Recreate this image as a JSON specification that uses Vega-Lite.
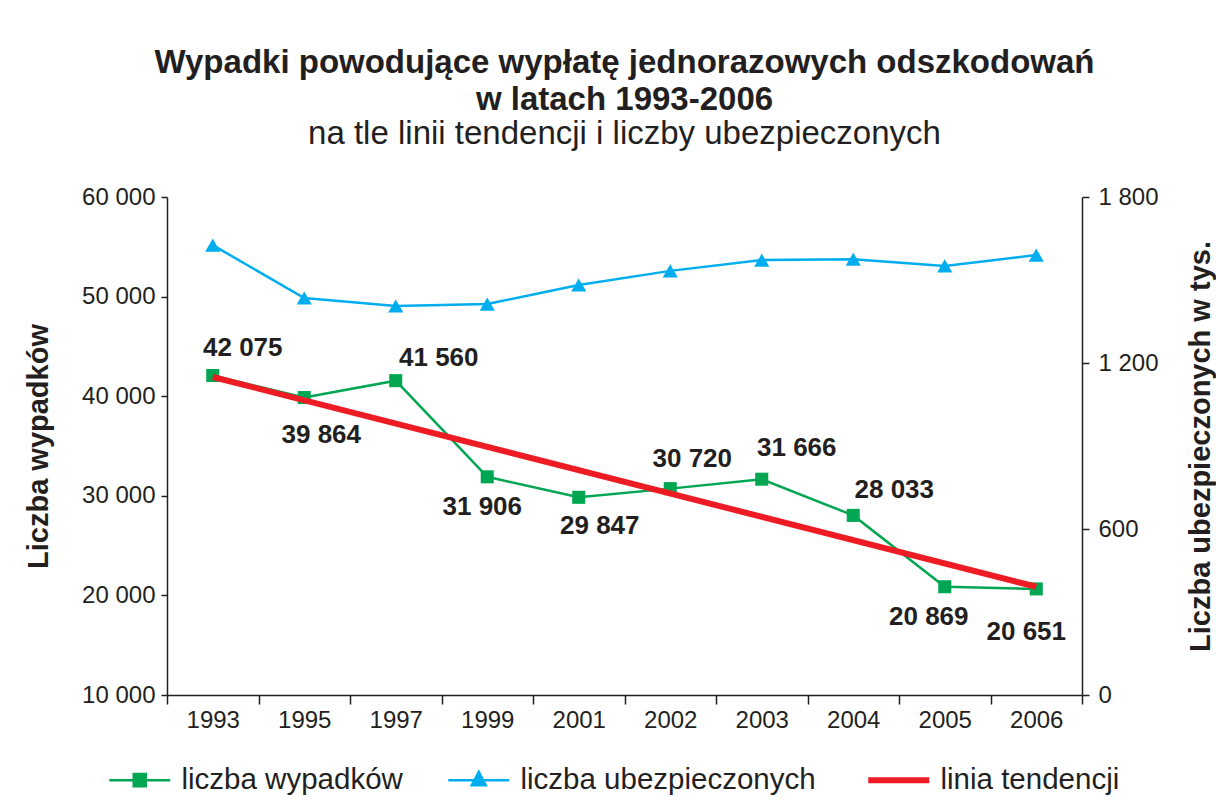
{
  "$schema": "https://vega.github.io/schema/vega-lite/v6.json",
  "width": 915,
  "height": 498,
  "autosize": {"type": "none"},
  "padding": {"left": 167, "top": 197, "right": 134, "bottom": 112},
  "background": "white",
  "config": {
    "locale": {"number": {"decimal": ",", "thousands": " ", "grouping": [3], "currency": ["", " zł"]}},
    "view": {"stroke": null},
    "font": "Liberation Sans",
    "axis": {
      "labelFont": "Liberation Sans", "labelFontSize": 24, "labelColor": "#231F20",
      "titleFont": "Liberation Sans", "titleFontSize": 29, "titleFontWeight": "bold", "titleColor": "#231F20",
      "domainColor": "#231F20", "tickColor": "#231F20", "domainWidth": 1.5, "tickWidth": 1.5, "grid": false
    }
  },
  "title": {
    "text": ["Wypadki powodujące wypłatę jednorazowych odszkodowań", "w latach 1993-2006"],
    "subtitle": "na tle linii tendencji i liczby ubezpieczonych",
    "font": "Liberation Sans", "fontSize": 33, "fontWeight": "bold", "color": "#231F20", "lineHeight": 37,
    "subtitleFont": "Liberation Sans", "subtitleFontSize": 33, "subtitleFontWeight": "normal", "subtitleColor": "#231F20",
    "subtitleLineHeight": 37, "subtitlePadding": 1, "anchor": "middle", "offset": 34
  },
  "datasets": {
    "d": [
      {"year": "1993", "wypadki": 42075, "ubezp": 1626},
      {"year": "1995", "wypadki": 39864, "ubezp": 1435},
      {"year": "1997", "wypadki": 41560, "ubezp": 1406},
      {"year": "1999", "wypadki": 31906, "ubezp": 1413},
      {"year": "2001", "wypadki": 29847, "ubezp": 1482},
      {"year": "2002", "wypadki": 30720, "ubezp": 1533},
      {"year": "2003", "wypadki": 31666, "ubezp": 1572},
      {"year": "2004", "wypadki": 28033, "ubezp": 1575},
      {"year": "2005", "wypadki": 20869, "ubezp": 1551},
      {"year": "2006", "wypadki": 20651, "ubezp": 1590}
    ],
    "t": [
      {"year": "1993", "trend": 41930},
      {"year": "2006", "trend": 20870}
    ],
    "leg": [
      {"series": "liczba wypadków"},
      {"series": "liczba ubezpieczonych"},
      {"series": "linia tendencji"}
    ]
  },
  "encoding": {
    "x": {
      "field": "year", "type": "ordinal", "bandPosition": 0.5,
      "scale": {"type": "band", "paddingInner": 0, "paddingOuter": 0,
        "domain": ["1993", "1995", "1997", "1999", "2001", "2002", "2003", "2004", "2005", "2006"]},
      "axis": {"title": null, "labelAngle": 0, "tickBand": "extent", "tickSize": 9, "labelPadding": 4}
    }
  },
  "layer": [
    {
      "layer": [
        {
          "data": {"name": "d"},
          "mark": {"type": "line", "color": "#00A651", "strokeWidth": 2.5},
          "encoding": {
            "y": {"field": "wypadki", "type": "quantitative",
              "scale": {"domain": [10000, 60000], "nice": false, "zero": false},
              "axis": {"title": "Liczba wypadków", "values": [10000, 20000, 30000, 40000, 50000, 60000], "format": ",d",
                "tickSize": 6, "labelPadding": 6, "titlePadding": 28}}
          }
        },
        {
          "data": {"name": "d"},
          "mark": {"type": "point", "shape": "square", "filled": true, "opacity": 1, "size": 170, "color": "#00A651"},
          "encoding": {
            "y": {"field": "wypadki", "type": "quantitative", "scale": {"domain": [10000, 60000], "nice": false, "zero": false}}
          }
        },
        {
          "data": {"name": "t"},
          "mark": {"type": "line", "color": "#ED1C24", "strokeWidth": 6},
          "encoding": {
            "y": {"field": "trend", "type": "quantitative", "scale": {"domain": [10000, 60000], "nice": false, "zero": false}}
          }
        },
        {"data": {"name": "d"}, "transform": [{"filter": "datum.year == '1993'"}],
          "mark": {"type": "text", "font": "Liberation Sans", "fontSize": 26, "fontWeight": "bold", "color": "#231F20", "dx": 30, "dy": -28},
          "encoding": {"y": {"field": "wypadki", "type": "quantitative"}, "text": {"field": "wypadki", "type": "quantitative", "format": ",d"}}},
        {"data": {"name": "d"}, "transform": [{"filter": "datum.year == '1995'"}],
          "mark": {"type": "text", "font": "Liberation Sans", "fontSize": 26, "fontWeight": "bold", "color": "#231F20", "dx": 17, "dy": 37},
          "encoding": {"y": {"field": "wypadki", "type": "quantitative"}, "text": {"field": "wypadki", "type": "quantitative", "format": ",d"}}},
        {"data": {"name": "d"}, "transform": [{"filter": "datum.year == '1997'"}],
          "mark": {"type": "text", "font": "Liberation Sans", "fontSize": 26, "fontWeight": "bold", "color": "#231F20", "dx": 43, "dy": -23},
          "encoding": {"y": {"field": "wypadki", "type": "quantitative"}, "text": {"field": "wypadki", "type": "quantitative", "format": ",d"}}},
        {"data": {"name": "d"}, "transform": [{"filter": "datum.year == '1999'"}],
          "mark": {"type": "text", "font": "Liberation Sans", "fontSize": 26, "fontWeight": "bold", "color": "#231F20", "dx": -5, "dy": 30},
          "encoding": {"y": {"field": "wypadki", "type": "quantitative"}, "text": {"field": "wypadki", "type": "quantitative", "format": ",d"}}},
        {"data": {"name": "d"}, "transform": [{"filter": "datum.year == '2001'"}],
          "mark": {"type": "text", "font": "Liberation Sans", "fontSize": 26, "fontWeight": "bold", "color": "#231F20", "dx": 21, "dy": 29},
          "encoding": {"y": {"field": "wypadki", "type": "quantitative"}, "text": {"field": "wypadki", "type": "quantitative", "format": ",d"}}},
        {"data": {"name": "d"}, "transform": [{"filter": "datum.year == '2002'"}],
          "mark": {"type": "text", "font": "Liberation Sans", "fontSize": 26, "fontWeight": "bold", "color": "#231F20", "dx": 22, "dy": -30},
          "encoding": {"y": {"field": "wypadki", "type": "quantitative"}, "text": {"field": "wypadki", "type": "quantitative", "format": ",d"}}},
        {"data": {"name": "d"}, "transform": [{"filter": "datum.year == '2003'"}],
          "mark": {"type": "text", "font": "Liberation Sans", "fontSize": 26, "fontWeight": "bold", "color": "#231F20", "dx": 35, "dy": -31},
          "encoding": {"y": {"field": "wypadki", "type": "quantitative"}, "text": {"field": "wypadki", "type": "quantitative", "format": ",d"}}},
        {"data": {"name": "d"}, "transform": [{"filter": "datum.year == '2004'"}],
          "mark": {"type": "text", "font": "Liberation Sans", "fontSize": 26, "fontWeight": "bold", "color": "#231F20", "dx": 41, "dy": -25},
          "encoding": {"y": {"field": "wypadki", "type": "quantitative"}, "text": {"field": "wypadki", "type": "quantitative", "format": ",d"}}},
        {"data": {"name": "d"}, "transform": [{"filter": "datum.year == '2005'"}],
          "mark": {"type": "text", "font": "Liberation Sans", "fontSize": 26, "fontWeight": "bold", "color": "#231F20", "dx": -16, "dy": 30},
          "encoding": {"y": {"field": "wypadki", "type": "quantitative"}, "text": {"field": "wypadki", "type": "quantitative", "format": ",d"}}},
        {"data": {"name": "d"}, "transform": [{"filter": "datum.year == '2006'"}],
          "mark": {"type": "text", "font": "Liberation Sans", "fontSize": 26, "fontWeight": "bold", "color": "#231F20", "dx": -10, "dy": 43},
          "encoding": {"y": {"field": "wypadki", "type": "quantitative"}, "text": {"field": "wypadki", "type": "quantitative", "format": ",d"}}},
        {
          "data": {"name": "leg"},
          "transform": [{"filter": "false"}],
          "mark": {"type": "point", "filled": true},
          "encoding": {
            "x": {"value": 0},
            "color": {"field": "series", "type": "nominal",
              "scale": {"domain": ["liczba wypadków", "liczba ubezpieczonych", "linia tendencji"], "range": ["#00A651", "#00AEEF", "#ED1C24"]},
              "legend": {"title": null, "orient": "none", "legendX": -42, "legendY": 568, "direction": "horizontal",
                "symbolSize": 3721, "symbolStrokeWidth": 2, "symbolOpacity": 1, "labelFont": "Liberation Sans", "labelFontSize": 29.5,
                "labelColor": "#231F20", "labelOffset": 27, "labelLimit": 500, "columnPadding": 40, "padding": 0,
                "encode": {"symbols": {"update": {
                  "fill": {"scale": "color", "field": "value"},
                  "stroke": {"scale": "color", "field": "value"},
                  "strokeWidth": {"signal": "datum.value === 'linia tendencji' ? 6 : 2.5"},
                  "opacity": {"value": 1}}}}}},
            "shape": {"field": "series", "type": "nominal",
              "scale": {"domain": ["liczba wypadków", "liczba ubezpieczonych", "linia tendencji"],
                "range": ["M-1,0H1M-0.197,-0.197H0.197V0.197H-0.197Z", "M-1,0H1M-0.23,0.17L0,-0.27L0.23,0.17Z", "M-1,0H1"]},
              "legend": {"title": null, "orient": "none", "legendX": -42, "legendY": 568, "direction": "horizontal",
                "symbolSize": 3721, "symbolStrokeWidth": 2, "symbolOpacity": 1, "labelFont": "Liberation Sans", "labelFontSize": 29.5,
                "labelColor": "#231F20", "labelOffset": 27, "labelLimit": 500, "columnPadding": 40, "padding": 0}}
          }
        }
      ]
    },
    {
      "layer": [
        {
          "data": {"name": "d"},
          "mark": {"type": "line", "color": "#00AEEF", "strokeWidth": 2.5},
          "encoding": {
            "y": {"field": "ubezp", "type": "quantitative",
              "scale": {"domain": [0, 1800], "nice": false},
              "axis": {"orient": "right", "title": "Liczba ubezpieczonych w tys.", "values": [0, 600, 1200, 1800], "format": ",d",
                "tickSize": 7, "labelPadding": 9, "titlePadding": 28, "titleAngle": 270, "titleBaseline": "top"}}
          }
        },
        {
          "data": {"name": "d"},
          "mark": {"type": "point", "shape": "triangle-up", "filled": true, "opacity": 1, "size": 230, "color": "#00AEEF"},
          "encoding": {
            "y": {"field": "ubezp", "type": "quantitative", "scale": {"domain": [0, 1800], "nice": false}}
          }
        }
      ]
    }
  ],
  "resolve": {"scale": {"y": "independent"}}
}
